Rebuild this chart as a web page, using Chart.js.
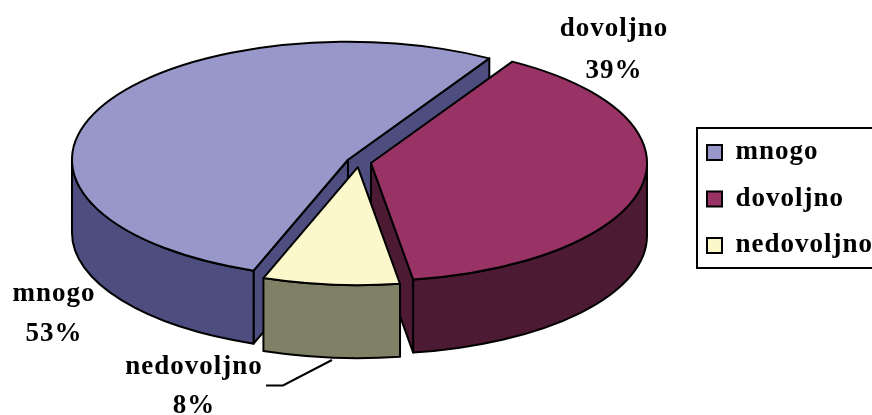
<!DOCTYPE html>
<html>
<head>
<meta charset="utf-8">
<style>html,body{margin:0;padding:0;background:#fff}canvas{display:block}</style>
<script src="https://cdn.jsdelivr.net/npm/chart.js@4"></script>
</head>
<body>
<canvas id="c" width="872" height="415"></canvas>
<script>
const categories = ['mnogo', 'dovoljno', 'nedovoljno'];
const values = [53, 39, 8];
const topColors = ['#9797C9', '#993366', '#FCF8CC'];
const sideColors = ['#4D4D80', '#4D1A33', '#808066'];

const RX = 276, RY = 118, DEPTH = 73, EXPLODE = 0.0442;
const FONT = 'bold 27px "Liberation Serif", serif';
const TRACK = '1px';
const labelSpots = [[54, 294, 334], [614, 29, 71], [194, 367, 406]];

const pie3d = {
  id: 'pie3d',
  beforeDraw(chart) { chart.ctx.letterSpacing = TRACK; },
  afterLayout(chart) {
    const lg = chart.legend;
    const w = lg.width, h = lg.height;
    lg.left = 687.5; lg.top = 119.5; lg.right = lg.left + w; lg.bottom = lg.top + h;
  },
  beforeDatasetsDraw(chart) {
    const ctx = chart.ctx;
    const arcs = chart.getDatasetMeta(0).data;
    ctx.save();
    ctx.lineWidth = 2;
    ctx.lineJoin = 'round';
    ctx.strokeStyle = '#000';
    arcs.forEach((arc, i) => {
      const a0 = arc.startAngle, a1 = arc.endAngle, mid = (a0 + a1) / 2;
      const cx = arc.x + Math.cos(mid) * EXPLODE * RX;
      const cy = arc.y + Math.sin(mid) * EXPLODE * RY;
      const px = a => cx + Math.cos(a) * RX;
      const py = a => cy + Math.sin(a) * RY;
      const paint = fill => { ctx.fillStyle = fill; ctx.fill(); ctx.stroke(); };
      const sector = dy => {
        ctx.beginPath();
        ctx.moveTo(cx, cy + dy);
        ctx.ellipse(cx, cy + dy, RX, RY, 0, a0, a1);
        ctx.closePath();
      };
      const face = a => {
        ctx.beginPath();
        ctx.moveTo(cx, cy);
        ctx.lineTo(px(a), py(a));
        ctx.lineTo(px(a), py(a) + DEPTH);
        ctx.lineTo(cx, cy + DEPTH);
        ctx.closePath();
        paint(sideColors[i]);
      };
      if (Math.cos(a0) < 0) face(a0);
      if (Math.cos(a1) > 0) face(a1);
      for (let k = -1; k <= 2; k++) {
        const b0 = Math.max(a0, 2 * Math.PI * k);
        const b1 = Math.min(a1, 2 * Math.PI * k + Math.PI);
        if (b1 <= b0) continue;
        ctx.beginPath();
        ctx.ellipse(cx, cy, RX, RY, 0, b0, b1);
        ctx.ellipse(cx, cy + DEPTH, RX, RY, 0, b1, b0, true);
        ctx.closePath();
        paint(sideColors[i]);
      }
      sector(0);
      paint(topColors[i]);
    });
    ctx.restore();
    return false;
  },
  afterDraw(chart) {
    const ctx = chart.ctx;
    ctx.save();
    ctx.lineWidth = 2;
    ctx.strokeStyle = '#000';
    ctx.strokeRect(697, 128, 200, 140);
    ctx.lineWidth = 2;
    ctx.beginPath();
    ctx.moveTo(266, 385.5);
    ctx.lineTo(283, 385.5);
    ctx.lineTo(332, 360);
    ctx.stroke();
    ctx.font = FONT;
    ctx.letterSpacing = TRACK;
    ctx.fillStyle = '#000';
    ctx.textAlign = 'center';
    ctx.textBaseline = 'middle';
    categories.forEach((name, i) => {
      const [x, y1, y2] = labelSpots[i];
      ctx.fillText(name, x, y1);
      ctx.fillText(values[i] + '%', x, y2);
    });
    ctx.restore();
  }
};

new Chart(document.getElementById('c'), {
  type: 'pie',
  data: {
    labels: categories,
    datasets: [{
      data: values,
      backgroundColor: topColors,
      borderColor: '#000',
      borderWidth: 2
    }]
  },
  options: {
    responsive: false,
    animation: false,
    rotation: 200,
    layout: { padding: { left: 0, right: 154, top: 0, bottom: 91 } },
    plugins: {
      tooltip: { enabled: false },
      legend: {
        position: 'chartArea',
        align: 'start',
        labels: {
          boxWidth: 15,
          boxHeight: 15,
          padding: 19.5,
          color: '#000',
          font: { family: '"Liberation Serif", serif', size: 27, weight: 'bold', lineHeight: 1 }
        }
      }
    }
  },
  plugins: [pie3d]
});
</script>
</body>
</html>
